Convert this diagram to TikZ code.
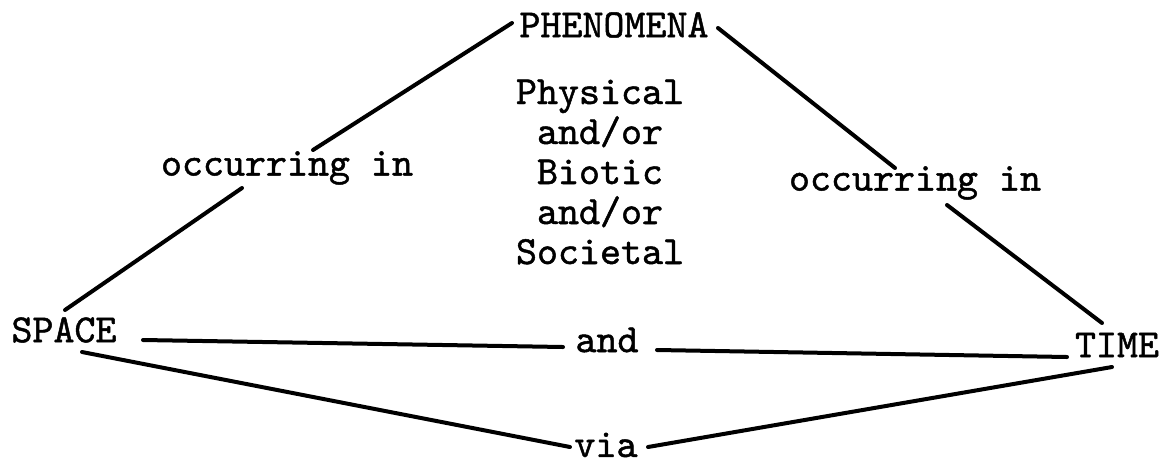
\documentclass[tikz,border=0pt]{standalone}
\usepackage{fontspec}
\newfontfamily\twfont{lmmono10-regular.otf}[FakeBold=1.2]
\begin{document}
\begin{tikzpicture}[x=0.75pt,y=-0.75pt,
  lbl/.style={font=\fontsize{30}{30}\selectfont\twfont, inner sep=4pt, text=black},
  conn/.style={line width=3pt, black, line cap=round}]
\useasboundingbox (0,0) rectangle (1170,469);
\node[lbl] (phen) at (614,25) {PHENOMENA};
\node[lbl, align=center] (mid) at (600,172) {Physical\\and/or\\Biotic\\and/or\\Societal};
\node[lbl] (occL) at (287,168) {occurring in};
\node[lbl] (occR) at (915,183) {occurring in};
\node[lbl] (space) at (64,330) {SPACE};
\node[lbl] (time) at (1117,345) {TIME};
\node[lbl] (and) at (607,340) {and};
\node[lbl] (via) at (606,445) {via};
% PHENOMENA -- SPACE
\draw[conn] ([shift={(-102,-2)}]phen.center) -- ([shift={(26,-18)}]occL.center);
\draw[conn] ([shift={(-45,20)}]occL.center) -- ([shift={(1,-20)}]space.center);
% PHENOMENA -- TIME
\draw[conn] ([shift={(104,3)}]phen.center) -- ([shift={(-20,-15)}]occR.center);
\draw[conn] ([shift={(32,22)}]occR.center) -- ([shift={(-15,-22)}]time.center);
% SPACE -- and -- TIME
\draw[conn] ([shift={(79,10)}]space.center) -- ([shift={(-44,7)}]and.center);
\draw[conn] ([shift={(50,10)}]and.center) -- ([shift={(-50,12)}]time.center);
% SPACE -- via -- TIME
\draw[conn] ([shift={(18,22)}]space.center) -- ([shift={(-36,2)}]via.center);
\draw[conn] ([shift={(42,2)}]via.center) -- ([shift={(-5,22)}]time.center);
\end{tikzpicture}
\end{document}
